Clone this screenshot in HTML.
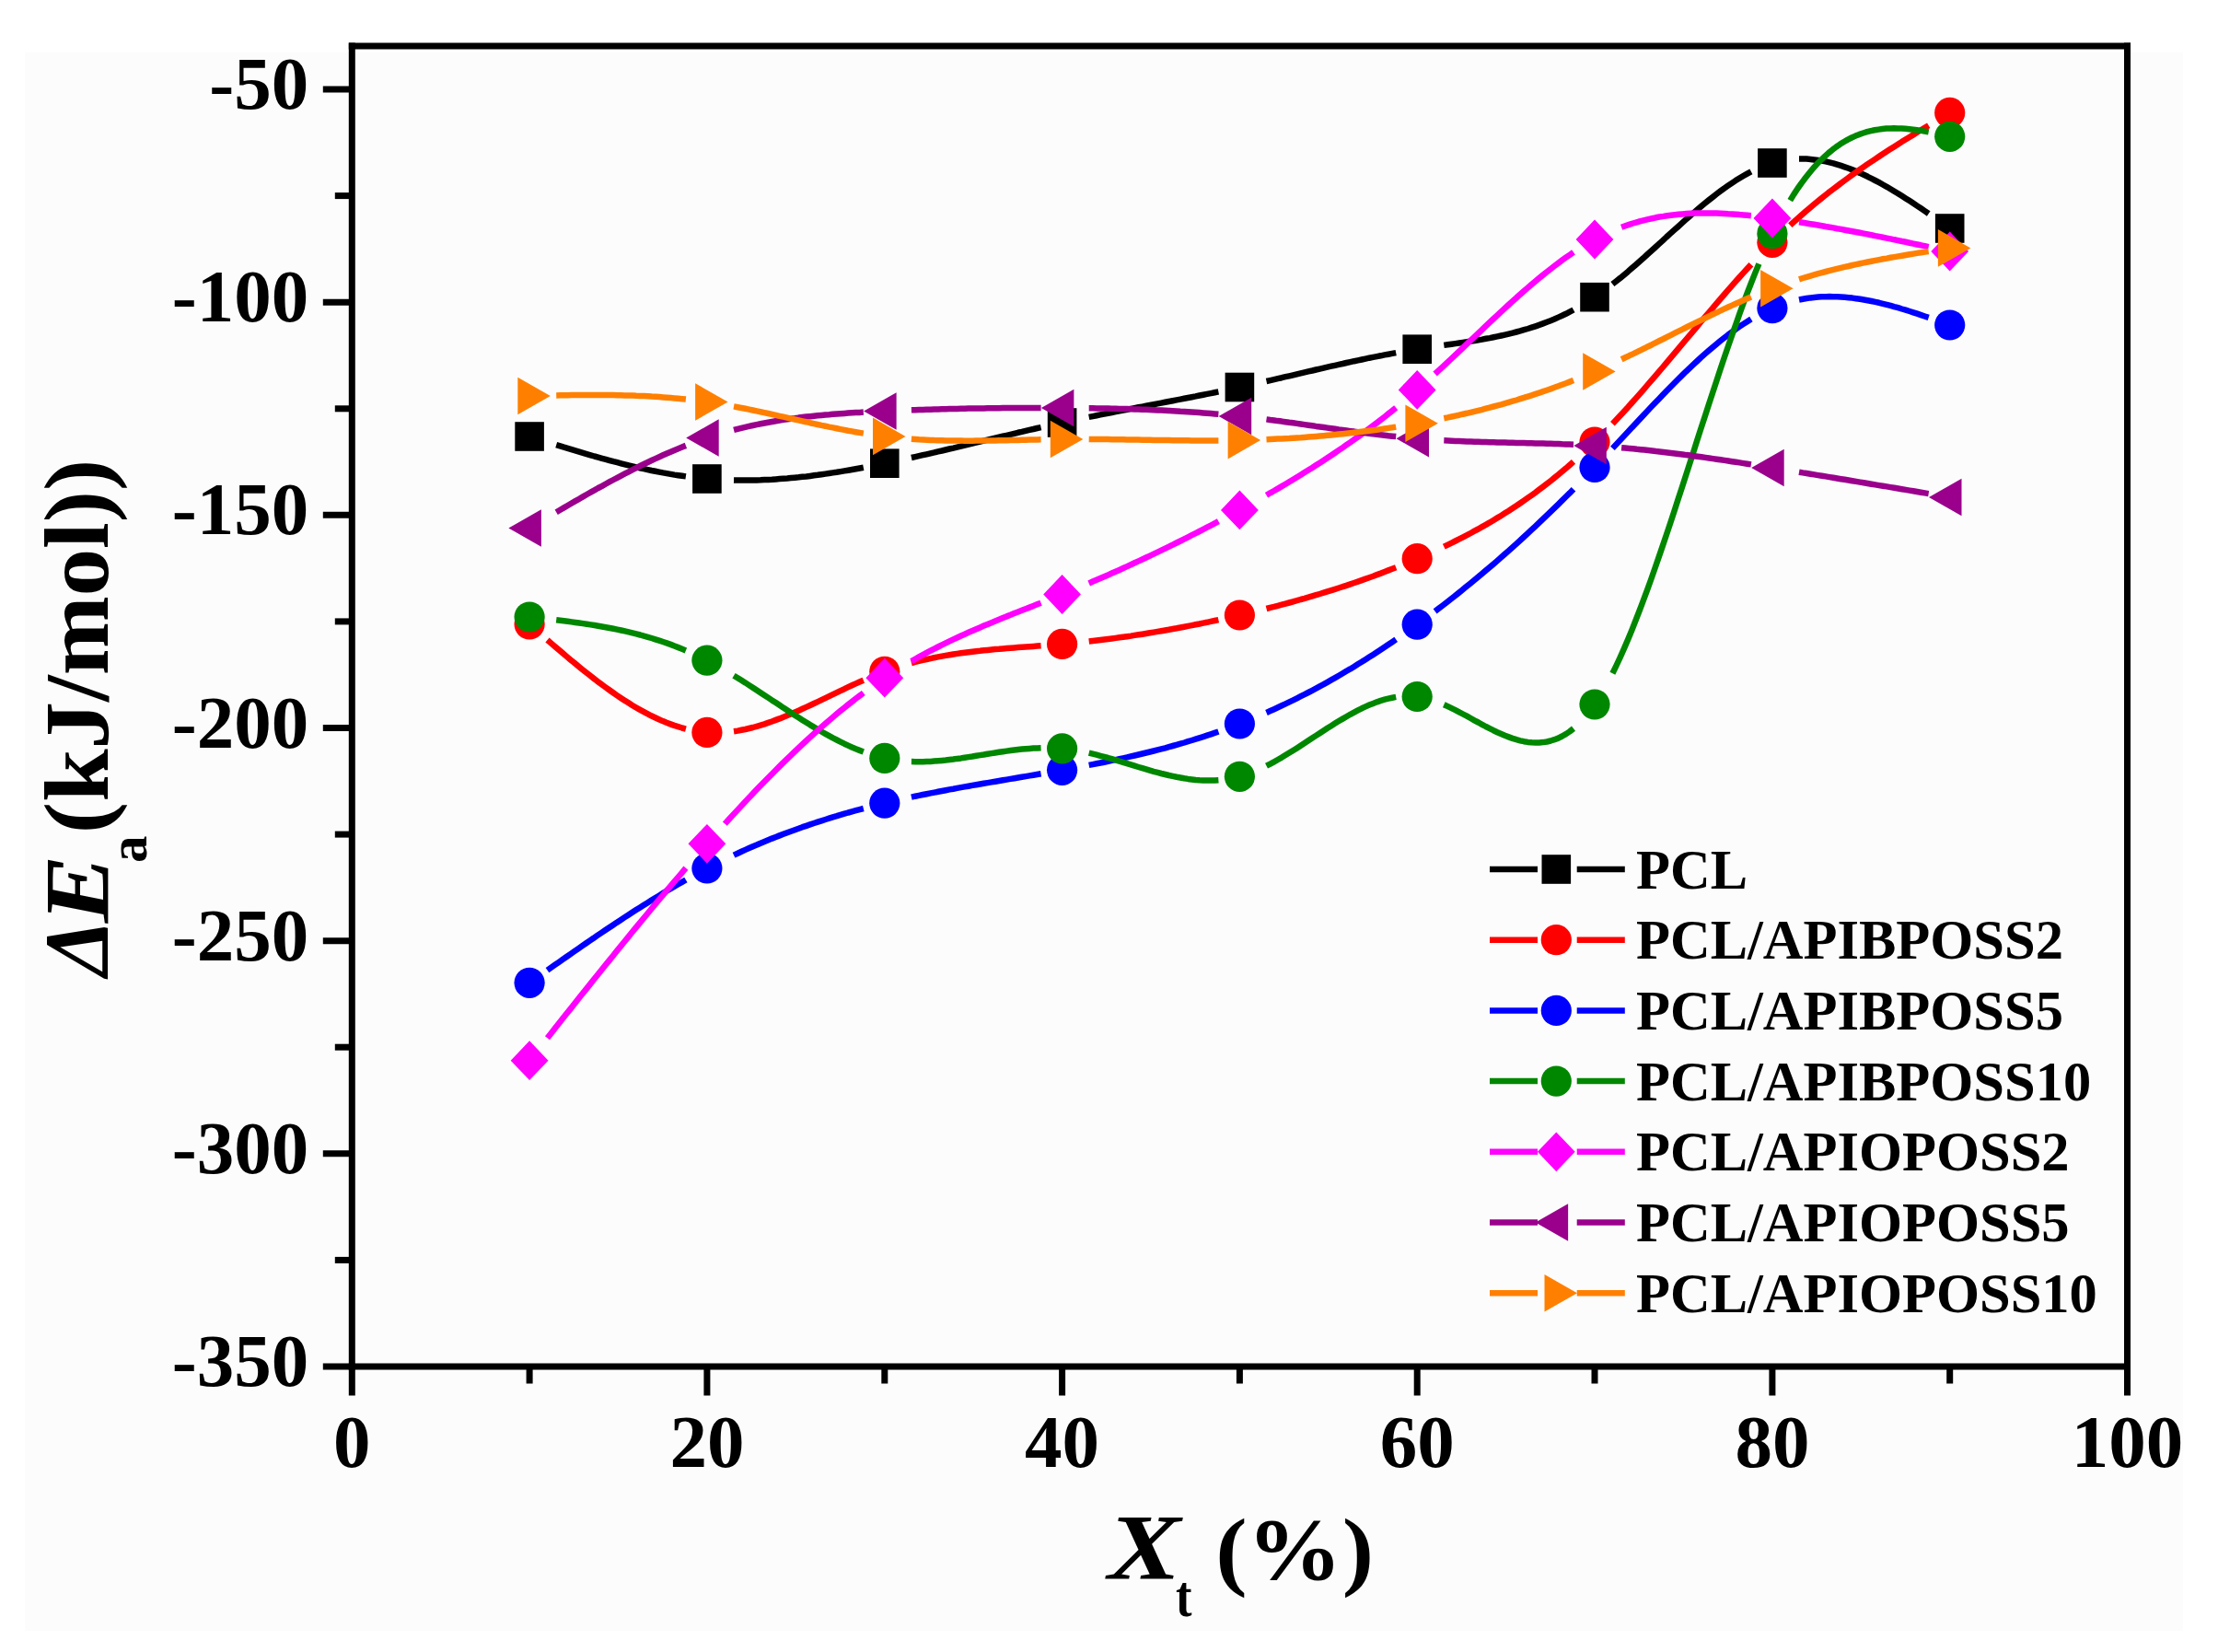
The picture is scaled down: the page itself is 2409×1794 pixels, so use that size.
<!DOCTYPE html>
<html lang="en"><head><meta charset="utf-8"><title>Activation energy vs relative crystallinity</title>
<style>html,body{margin:0;padding:0;background:#fff}svg{display:block}</style></head>
<body>
<svg width="2409" height="1794" viewBox="0 0 2409 1794">
<rect width="2409" height="1794" fill="#ffffff"/>
<rect x="27" y="57" width="2344" height="1714" fill="#fcfcfd"/>
<path d="M604.2,483.1 L608.4,484.4 L612.5,485.7 L616.6,486.9 L620.8,488.2 L624.9,489.4 L629.1,490.7 L633.2,491.9 L637.3,493.1 L641.5,494.3 L645.6,495.5 L649.7,496.6 L653.9,497.8 L658.0,498.9 L662.2,500.1 L666.3,501.2 L670.4,502.2 L674.6,503.3 L678.7,504.3 L682.9,505.4 L687.0,506.3 L691.1,507.3 L695.3,508.3 L699.4,509.2 L703.6,510.1 L707.7,511.0 L711.8,511.8 L716.0,512.6 L720.1,513.4 L724.2,514.1 L728.4,514.9 L732.5,515.6 L736.7,516.2 L740.8,516.8 L744.9,517.4 M797.0,521.5 L801.2,521.6 L805.3,521.6 L809.5,521.6 L813.6,521.6 L817.7,521.5 L821.9,521.4 L826.0,521.3 L830.2,521.1 L834.3,520.9 L838.4,520.7 L842.6,520.4 L846.7,520.1 L850.8,519.8 L855.0,519.5 L859.1,519.1 L863.3,518.7 L867.4,518.3 L871.5,517.8 L875.7,517.4 L879.8,516.9 L884.0,516.3 L888.1,515.8 L892.2,515.2 L896.4,514.6 L900.5,514.0 L904.6,513.4 L908.8,512.8 L912.9,512.1 L917.1,511.4 L921.2,510.7 L925.3,510.0 L929.5,509.2 L933.6,508.5 L937.8,507.7 M989.9,497.0 L994.0,496.1 L998.1,495.2 L1002.3,494.2 L1006.4,493.3 L1010.6,492.3 L1014.7,491.4 L1018.8,490.4 L1023.0,489.5 L1027.1,488.5 L1031.2,487.5 L1035.4,486.6 L1039.5,485.6 L1043.7,484.6 L1047.8,483.6 L1051.9,482.6 L1056.1,481.6 L1060.2,480.7 L1064.4,479.7 L1068.5,478.7 L1072.6,477.7 L1076.8,476.7 L1080.9,475.7 L1085.1,474.7 L1089.2,473.7 L1093.3,472.8 L1097.5,471.8 L1101.6,470.8 L1105.7,469.8 L1109.9,468.9 L1114.0,467.9 L1118.2,466.9 L1122.3,466.0 L1126.4,465.0 L1130.6,464.1 M1182.7,452.9 L1186.8,452.1 L1191.0,451.2 L1195.1,450.4 L1199.2,449.6 L1203.4,448.8 L1207.5,448.0 L1211.7,447.1 L1215.8,446.3 L1219.9,445.5 L1224.1,444.7 L1228.2,443.9 L1232.3,443.1 L1236.5,442.3 L1240.6,441.6 L1244.8,440.8 L1248.9,440.0 L1253.0,439.2 L1257.2,438.4 L1261.3,437.6 L1265.5,436.8 L1269.6,436.0 L1273.7,435.2 L1277.9,434.4 L1282.0,433.6 L1286.2,432.8 L1290.3,432.0 L1294.4,431.2 L1298.6,430.4 L1302.7,429.5 L1306.8,428.7 L1311.0,427.9 L1315.1,427.1 L1319.3,426.2 L1323.4,425.4 M1375.5,414.0 L1379.6,413.1 L1383.8,412.1 L1387.9,411.1 L1392.1,410.2 L1396.2,409.2 L1400.3,408.3 L1404.5,407.3 L1408.6,406.3 L1412.7,405.4 L1416.9,404.4 L1421.0,403.4 L1425.2,402.5 L1429.3,401.5 L1433.4,400.6 L1437.6,399.6 L1441.7,398.7 L1445.9,397.7 L1450.0,396.8 L1454.1,395.9 L1458.3,395.0 L1462.4,394.0 L1466.6,393.1 L1470.7,392.2 L1474.8,391.4 L1479.0,390.5 L1483.1,389.6 L1487.2,388.7 L1491.4,387.9 L1495.5,387.1 L1499.7,386.3 L1503.8,385.4 L1507.9,384.7 L1512.1,383.9 L1516.2,383.1 M1568.3,374.9 L1572.5,374.3 L1576.6,373.7 L1580.7,373.1 L1584.9,372.5 L1589.0,371.9 L1593.2,371.3 L1597.3,370.6 L1601.4,370.0 L1605.6,369.3 L1609.7,368.6 L1613.8,367.8 L1618.0,367.1 L1622.1,366.3 L1626.3,365.4 L1630.4,364.5 L1634.5,363.6 L1638.7,362.6 L1642.8,361.6 L1647.0,360.5 L1651.1,359.4 L1655.2,358.2 L1659.4,357.0 L1663.5,355.7 L1667.7,354.3 L1671.8,352.9 L1675.9,351.4 L1680.1,349.8 L1684.2,348.2 L1688.3,346.5 L1692.5,344.6 L1696.6,342.8 L1700.8,340.8 L1704.9,338.7 L1709.0,336.5 M1751.4,308.5 L1755.6,305.2 L1759.8,301.9 L1764.0,298.4 L1768.2,294.9 L1772.3,291.3 L1776.5,287.7 L1780.7,284.0 L1784.9,280.3 L1789.0,276.5 L1793.2,272.8 L1797.4,269.0 L1801.6,265.2 L1805.8,261.4 L1809.9,257.5 L1814.1,253.7 L1818.3,249.9 L1822.5,246.2 L1826.7,242.4 L1830.8,238.7 L1835.0,235.0 L1839.2,231.4 L1843.4,227.8 L1847.5,224.3 L1851.7,220.8 L1855.9,217.4 L1860.1,214.1 L1864.3,210.8 L1868.4,207.7 L1872.6,204.6 L1876.8,201.7 L1881.0,198.8 L1885.1,196.1 L1889.3,193.5 L1893.5,191.0 L1897.7,188.6 L1901.9,186.4 M1954.0,172.5 L1958.1,172.5 L1962.2,172.6 L1966.4,172.9 L1970.5,173.4 L1974.7,173.9 L1978.8,174.6 L1982.9,175.4 L1987.1,176.4 L1991.2,177.4 L1995.3,178.6 L1999.5,179.9 L2003.6,181.3 L2007.8,182.8 L2011.9,184.4 L2016.0,186.1 L2020.2,187.9 L2024.3,189.8 L2028.5,191.8 L2032.6,193.9 L2036.7,196.0 L2040.9,198.2 L2045.0,200.5 L2049.2,202.8 L2053.3,205.2 L2057.4,207.7 L2061.6,210.2 L2065.7,212.8 L2069.8,215.4 L2074.0,218.1 L2078.1,220.8 L2082.3,223.6 L2086.4,226.3 L2090.5,229.1 L2094.7,232.0" fill="none" stroke="#000000" stroke-width="6.5" stroke-linecap="butt" stroke-linejoin="round"/>
<rect x="559.3" y="458.2" width="31.6" height="31.6" fill="#000000"/>
<rect x="752.1" y="504.2" width="31.6" height="31.6" fill="#000000"/>
<rect x="945.0" y="487.4" width="31.6" height="31.6" fill="#000000"/>
<rect x="1137.8" y="443.2" width="31.6" height="31.6" fill="#000000"/>
<rect x="1330.6" y="404.7" width="31.6" height="31.6" fill="#000000"/>
<rect x="1523.4" y="363.4" width="31.6" height="31.6" fill="#000000"/>
<rect x="1716.2" y="306.9" width="31.6" height="31.6" fill="#000000"/>
<rect x="1909.1" y="161.2" width="31.6" height="31.6" fill="#000000"/>
<rect x="2101.9" y="232.2" width="31.6" height="31.6" fill="#000000"/>
<path d="M594.5,695.0 L598.7,698.6 L602.9,702.2 L607.1,705.8 L611.2,709.3 L615.4,712.9 L619.6,716.4 L623.8,719.8 L627.9,723.3 L632.1,726.7 L636.3,730.0 L640.5,733.3 L644.7,736.6 L648.8,739.8 L653.0,742.9 L657.2,746.0 L661.4,749.0 L665.6,752.0 L669.7,754.9 L673.9,757.7 L678.1,760.4 L682.3,763.1 L686.4,765.7 L690.6,768.2 L694.8,770.6 L699.0,772.9 L703.2,775.1 L707.3,777.3 L711.5,779.3 L715.7,781.2 L719.9,783.1 L724.0,784.8 L728.2,786.4 L732.4,787.9 L736.6,789.2 L740.8,790.5 L744.9,791.6 M797.0,794.2 L801.2,793.6 L805.3,792.8 L809.5,792.0 L813.6,791.0 L817.7,790.0 L821.9,788.8 L826.0,787.6 L830.2,786.3 L834.3,784.9 L838.4,783.5 L842.6,781.9 L846.7,780.4 L850.8,778.7 L855.0,777.0 L859.1,775.3 L863.3,773.5 L867.4,771.7 L871.5,769.8 L875.7,767.9 L879.8,766.0 L884.0,764.0 L888.1,762.1 L892.2,760.1 L896.4,758.1 L900.5,756.1 L904.6,754.1 L908.8,752.1 L912.9,750.1 L917.1,748.2 L921.2,746.2 L925.3,744.3 L929.5,742.4 L933.6,740.5 L937.8,738.7 M989.9,720.0 L994.0,718.9 L998.1,717.9 L1002.3,716.9 L1006.4,716.0 L1010.6,715.1 L1014.7,714.2 L1018.8,713.4 L1023.0,712.6 L1027.1,711.9 L1031.2,711.2 L1035.4,710.5 L1039.5,709.9 L1043.7,709.3 L1047.8,708.7 L1051.9,708.2 L1056.1,707.7 L1060.2,707.2 L1064.4,706.8 L1068.5,706.3 L1072.6,705.9 L1076.8,705.5 L1080.9,705.1 L1085.1,704.8 L1089.2,704.4 L1093.3,704.1 L1097.5,703.7 L1101.6,703.4 L1105.7,703.1 L1109.9,702.8 L1114.0,702.5 L1118.2,702.2 L1122.3,701.9 L1126.4,701.6 L1130.6,701.3 M1182.7,696.5 L1186.8,696.0 L1191.0,695.5 L1195.1,695.0 L1199.2,694.5 L1203.4,694.0 L1207.5,693.5 L1211.7,692.9 L1215.8,692.3 L1219.9,691.8 L1224.1,691.2 L1228.2,690.6 L1232.3,689.9 L1236.5,689.3 L1240.6,688.7 L1244.8,688.0 L1248.9,687.3 L1253.0,686.6 L1257.2,685.9 L1261.3,685.2 L1265.5,684.5 L1269.6,683.8 L1273.7,683.0 L1277.9,682.3 L1282.0,681.5 L1286.2,680.7 L1290.3,679.9 L1294.4,679.1 L1298.6,678.3 L1302.7,677.5 L1306.8,676.6 L1311.0,675.8 L1315.1,674.9 L1319.3,674.0 L1323.4,673.1 M1375.5,661.0 L1379.6,659.9 L1383.8,658.9 L1387.9,657.8 L1392.1,656.7 L1396.2,655.6 L1400.3,654.5 L1404.5,653.3 L1408.6,652.2 L1412.7,651.0 L1416.9,649.9 L1421.0,648.7 L1425.2,647.4 L1429.3,646.2 L1433.4,645.0 L1437.6,643.7 L1441.7,642.4 L1445.9,641.1 L1450.0,639.8 L1454.1,638.5 L1458.3,637.2 L1462.4,635.8 L1466.6,634.4 L1470.7,633.0 L1474.8,631.6 L1479.0,630.1 L1483.1,628.7 L1487.2,627.2 L1491.4,625.7 L1495.5,624.1 L1499.7,622.6 L1503.8,621.0 L1507.9,619.4 L1512.1,617.8 L1516.2,616.2 M1568.3,593.6 L1572.5,591.6 L1576.6,589.6 L1580.7,587.5 L1584.9,585.4 L1589.0,583.3 L1593.2,581.2 L1597.3,579.0 L1601.4,576.7 L1605.6,574.5 L1609.7,572.1 L1613.8,569.8 L1618.0,567.4 L1622.1,564.9 L1626.3,562.4 L1630.4,559.9 L1634.5,557.3 L1638.7,554.7 L1642.8,552.0 L1647.0,549.3 L1651.1,546.5 L1655.2,543.6 L1659.4,540.7 L1663.5,537.8 L1667.7,534.8 L1671.8,531.7 L1675.9,528.6 L1680.1,525.4 L1684.2,522.2 L1688.3,518.9 L1692.5,515.5 L1696.6,512.1 L1700.8,508.6 L1704.9,505.0 L1709.0,501.4 M1751.4,460.2 L1755.6,455.8 L1759.8,451.3 L1764.0,446.8 L1768.2,442.2 L1772.3,437.5 L1776.5,432.8 L1780.7,428.1 L1784.9,423.3 L1789.0,418.5 L1793.2,413.7 L1797.4,408.8 L1801.6,403.9 L1805.8,399.0 L1809.9,394.1 L1814.1,389.1 L1818.3,384.2 L1822.5,379.2 L1826.7,374.2 L1830.8,369.2 L1835.0,364.3 L1839.2,359.3 L1843.4,354.3 L1847.5,349.3 L1851.7,344.4 L1855.9,339.5 L1860.1,334.6 L1864.3,329.7 L1868.4,324.8 L1872.6,320.0 L1876.8,315.2 L1881.0,310.4 L1885.1,305.7 L1889.3,301.0 L1893.5,296.4 L1897.7,291.8 L1901.9,287.2 M1944.3,244.7 L1948.4,240.9 L1952.6,237.2 L1956.8,233.5 L1961.0,229.8 L1965.2,226.3 L1969.3,222.8 L1973.5,219.3 L1977.7,215.9 L1981.9,212.5 L1986.0,209.2 L1990.2,206.0 L1994.4,202.8 L1998.6,199.6 L2002.8,196.5 L2006.9,193.5 L2011.1,190.4 L2015.3,187.4 L2019.5,184.5 L2023.6,181.6 L2027.8,178.7 L2032.0,175.9 L2036.2,173.1 L2040.4,170.3 L2044.5,167.5 L2048.7,164.8 L2052.9,162.1 L2057.1,159.4 L2061.3,156.8 L2065.4,154.1 L2069.6,151.5 L2073.8,148.9 L2078.0,146.4 L2082.1,143.8 L2086.3,141.3 L2090.5,138.7 L2094.7,136.2" fill="none" stroke="#ff0000" stroke-width="6.5" stroke-linecap="butt" stroke-linejoin="round"/>
<circle cx="575.1" cy="678.0" r="16.6" fill="#ff0000"/>
<circle cx="767.9" cy="795.4" r="16.6" fill="#ff0000"/>
<circle cx="960.8" cy="729.3" r="16.6" fill="#ff0000"/>
<circle cx="1153.6" cy="699.4" r="16.6" fill="#ff0000"/>
<circle cx="1346.4" cy="668.0" r="16.6" fill="#ff0000"/>
<circle cx="1539.2" cy="606.7" r="16.6" fill="#ff0000"/>
<circle cx="1732.0" cy="480.0" r="16.6" fill="#ff0000"/>
<circle cx="1924.9" cy="263.3" r="16.6" fill="#ff0000"/>
<circle cx="2117.7" cy="122.4" r="16.6" fill="#ff0000"/>
<path d="M594.5,1053.6 L598.7,1050.7 L602.9,1047.7 L607.1,1044.8 L611.2,1041.9 L615.4,1039.0 L619.6,1036.1 L623.8,1033.2 L627.9,1030.3 L632.1,1027.4 L636.3,1024.5 L640.5,1021.6 L644.7,1018.8 L648.8,1015.9 L653.0,1013.1 L657.2,1010.3 L661.4,1007.5 L665.6,1004.7 L669.7,1001.9 L673.9,999.2 L678.1,996.4 L682.3,993.7 L686.4,991.0 L690.6,988.3 L694.8,985.7 L699.0,983.0 L703.2,980.4 L707.3,977.8 L711.5,975.2 L715.7,972.7 L719.9,970.1 L724.0,967.6 L728.2,965.1 L732.4,962.7 L736.6,960.3 L740.8,957.9 L744.9,955.5 M797.0,928.6 L801.2,926.7 L805.3,924.8 L809.5,922.9 L813.6,921.1 L817.7,919.2 L821.9,917.5 L826.0,915.7 L830.2,914.0 L834.3,912.3 L838.4,910.6 L842.6,909.0 L846.7,907.4 L850.8,905.8 L855.0,904.2 L859.1,902.7 L863.3,901.2 L867.4,899.7 L871.5,898.2 L875.7,896.8 L879.8,895.4 L884.0,894.0 L888.1,892.6 L892.2,891.3 L896.4,890.0 L900.5,888.7 L904.6,887.4 L908.8,886.2 L912.9,884.9 L917.1,883.7 L921.2,882.5 L925.3,881.4 L929.5,880.2 L933.6,879.1 L937.8,878.0 M989.9,865.6 L994.0,864.7 L998.1,863.9 L1002.3,863.0 L1006.4,862.2 L1010.6,861.4 L1014.7,860.6 L1018.8,859.8 L1023.0,859.0 L1027.1,858.2 L1031.2,857.4 L1035.4,856.7 L1039.5,855.9 L1043.7,855.1 L1047.8,854.4 L1051.9,853.7 L1056.1,852.9 L1060.2,852.2 L1064.4,851.5 L1068.5,850.8 L1072.6,850.1 L1076.8,849.4 L1080.9,848.7 L1085.1,848.0 L1089.2,847.3 L1093.3,846.6 L1097.5,845.9 L1101.6,845.2 L1105.7,844.5 L1109.9,843.8 L1114.0,843.1 L1118.2,842.4 L1122.3,841.7 L1126.4,841.0 L1130.6,840.3 M1182.7,830.9 L1186.8,830.1 L1191.0,829.3 L1195.1,828.5 L1199.2,827.7 L1203.4,826.8 L1207.5,825.9 L1211.7,825.1 L1215.8,824.2 L1219.9,823.3 L1224.1,822.4 L1228.2,821.4 L1232.3,820.5 L1236.5,819.5 L1240.6,818.5 L1244.8,817.5 L1248.9,816.5 L1253.0,815.5 L1257.2,814.4 L1261.3,813.4 L1265.5,812.3 L1269.6,811.1 L1273.7,810.0 L1277.9,808.8 L1282.0,807.7 L1286.2,806.5 L1290.3,805.2 L1294.4,804.0 L1298.6,802.7 L1302.7,801.4 L1306.8,800.1 L1311.0,798.7 L1315.1,797.3 L1319.3,795.9 L1323.4,794.5 M1375.5,773.9 L1379.6,772.1 L1383.8,770.2 L1387.9,768.3 L1392.1,766.3 L1396.2,764.4 L1400.3,762.4 L1404.5,760.4 L1408.6,758.3 L1412.7,756.2 L1416.9,754.1 L1421.0,752.0 L1425.2,749.8 L1429.3,747.6 L1433.4,745.3 L1437.6,743.1 L1441.7,740.8 L1445.9,738.4 L1450.0,736.1 L1454.1,733.7 L1458.3,731.3 L1462.4,728.8 L1466.6,726.4 L1470.7,723.9 L1474.8,721.3 L1479.0,718.8 L1483.1,716.2 L1487.2,713.6 L1491.4,710.9 L1495.5,708.2 L1499.7,705.5 L1503.8,702.8 L1507.9,700.0 L1512.1,697.2 L1516.2,694.4 M1558.6,663.8 L1562.8,660.7 L1567.0,657.5 L1571.2,654.2 L1575.3,651.0 L1579.5,647.7 L1583.7,644.4 L1587.9,641.0 L1592.0,637.6 L1596.2,634.2 L1600.4,630.8 L1604.6,627.3 L1608.8,623.8 L1612.9,620.3 L1617.1,616.8 L1621.3,613.2 L1625.5,609.6 L1629.7,605.9 L1633.8,602.3 L1638.0,598.6 L1642.2,594.8 L1646.4,591.1 L1650.5,587.3 L1654.7,583.5 L1658.9,579.6 L1663.1,575.7 L1667.3,571.8 L1671.4,567.9 L1675.6,563.9 L1679.8,559.9 L1684.0,555.9 L1688.1,551.9 L1692.3,547.8 L1696.5,543.7 L1700.7,539.5 L1704.9,535.4 L1709.0,531.2 M1751.4,486.9 L1755.6,482.4 L1759.8,477.9 L1764.0,473.4 L1768.2,468.9 L1772.3,464.4 L1776.5,460.0 L1780.7,455.5 L1784.9,451.0 L1789.0,446.6 L1793.2,442.1 L1797.4,437.7 L1801.6,433.4 L1805.8,429.0 L1809.9,424.7 L1814.1,420.4 L1818.3,416.2 L1822.5,412.0 L1826.7,407.9 L1830.8,403.8 L1835.0,399.8 L1839.2,395.9 L1843.4,392.0 L1847.5,388.2 L1851.7,384.4 L1855.9,380.8 L1860.1,377.2 L1864.3,373.7 L1868.4,370.3 L1872.6,367.0 L1876.8,363.7 L1881.0,360.6 L1885.1,357.6 L1889.3,354.7 L1893.5,351.9 L1897.7,349.2 L1901.9,346.6 M1954.0,325.5 L1958.1,324.7 L1962.2,324.0 L1966.4,323.4 L1970.5,323.0 L1974.7,322.6 L1978.8,322.3 L1982.9,322.2 L1987.1,322.1 L1991.2,322.2 L1995.3,322.3 L1999.5,322.5 L2003.6,322.8 L2007.8,323.2 L2011.9,323.6 L2016.0,324.2 L2020.2,324.8 L2024.3,325.5 L2028.5,326.2 L2032.6,327.0 L2036.7,327.9 L2040.9,328.8 L2045.0,329.8 L2049.2,330.8 L2053.3,331.9 L2057.4,333.1 L2061.6,334.2 L2065.7,335.5 L2069.8,336.7 L2074.0,338.0 L2078.1,339.3 L2082.3,340.7 L2086.4,342.1 L2090.5,343.5 L2094.7,344.9" fill="none" stroke="#0000ff" stroke-width="6.5" stroke-linecap="butt" stroke-linejoin="round"/>
<circle cx="575.1" cy="1067.3" r="16.6" fill="#0000ff"/>
<circle cx="767.9" cy="943.0" r="16.6" fill="#0000ff"/>
<circle cx="960.8" cy="872.2" r="16.6" fill="#0000ff"/>
<circle cx="1153.6" cy="836.3" r="16.6" fill="#0000ff"/>
<circle cx="1346.4" cy="786.0" r="16.6" fill="#0000ff"/>
<circle cx="1539.2" cy="678.2" r="16.6" fill="#0000ff"/>
<circle cx="1732.0" cy="507.5" r="16.6" fill="#0000ff"/>
<circle cx="1924.9" cy="334.7" r="16.6" fill="#0000ff"/>
<circle cx="2117.7" cy="353.0" r="16.6" fill="#0000ff"/>
<path d="M604.2,673.3 L608.4,673.8 L612.5,674.3 L616.6,674.8 L620.8,675.4 L624.9,675.9 L629.1,676.5 L633.2,677.1 L637.3,677.7 L641.5,678.4 L645.6,679.0 L649.7,679.7 L653.9,680.5 L658.0,681.2 L662.2,682.0 L666.3,682.8 L670.4,683.6 L674.6,684.5 L678.7,685.4 L682.9,686.4 L687.0,687.4 L691.1,688.4 L695.3,689.5 L699.4,690.7 L703.6,691.8 L707.7,693.0 L711.8,694.3 L716.0,695.6 L720.1,697.0 L724.2,698.4 L728.4,699.9 L732.5,701.5 L736.7,703.1 L740.8,704.7 L744.9,706.4 M797.0,733.7 L801.2,736.2 L805.3,738.8 L809.5,741.4 L813.6,744.1 L817.7,746.8 L821.9,749.5 L826.0,752.2 L830.2,754.9 L834.3,757.6 L838.4,760.4 L842.6,763.1 L846.7,765.8 L850.8,768.6 L855.0,771.3 L859.1,774.0 L863.3,776.7 L867.4,779.3 L871.5,781.9 L875.7,784.5 L879.8,787.1 L884.0,789.6 L888.1,792.1 L892.2,794.5 L896.4,796.8 L900.5,799.1 L904.6,801.4 L908.8,803.5 L912.9,805.6 L917.1,807.7 L921.2,809.6 L925.3,811.5 L929.5,813.3 L933.6,814.9 L937.8,816.5 M989.9,827.1 L994.0,827.2 L998.1,827.2 L1002.3,827.2 L1006.4,827.0 L1010.6,826.9 L1014.7,826.6 L1018.8,826.3 L1023.0,825.9 L1027.1,825.5 L1031.2,825.0 L1035.4,824.5 L1039.5,823.9 L1043.7,823.4 L1047.8,822.7 L1051.9,822.1 L1056.1,821.5 L1060.2,820.8 L1064.4,820.1 L1068.5,819.5 L1072.6,818.8 L1076.8,818.1 L1080.9,817.5 L1085.1,816.8 L1089.2,816.2 L1093.3,815.6 L1097.5,815.0 L1101.6,814.5 L1105.7,814.0 L1109.9,813.6 L1114.0,813.2 L1118.2,812.9 L1122.3,812.6 L1126.4,812.4 L1130.6,812.2 M1182.7,817.7 L1186.8,818.7 L1191.0,819.7 L1195.1,820.8 L1199.2,821.9 L1203.4,823.0 L1207.5,824.2 L1211.7,825.4 L1215.8,826.7 L1219.9,827.9 L1224.1,829.2 L1228.2,830.4 L1232.3,831.7 L1236.5,833.0 L1240.6,834.2 L1244.8,835.4 L1248.9,836.6 L1253.0,837.8 L1257.2,838.9 L1261.3,840.0 L1265.5,841.0 L1269.6,842.0 L1273.7,842.9 L1277.9,843.8 L1282.0,844.5 L1286.2,845.3 L1290.3,845.9 L1294.4,846.4 L1298.6,846.9 L1302.7,847.2 L1306.8,847.4 L1311.0,847.6 L1315.1,847.6 L1319.3,847.5 L1323.4,847.2 M1375.5,831.7 L1379.6,829.6 L1383.8,827.3 L1387.9,825.0 L1392.1,822.6 L1396.2,820.1 L1400.3,817.6 L1404.5,815.0 L1408.6,812.4 L1412.7,809.7 L1416.9,807.0 L1421.0,804.3 L1425.2,801.6 L1429.3,798.9 L1433.4,796.2 L1437.6,793.5 L1441.7,790.8 L1445.9,788.2 L1450.0,785.6 L1454.1,783.1 L1458.3,780.6 L1462.4,778.2 L1466.6,775.8 L1470.7,773.6 L1474.8,771.4 L1479.0,769.3 L1483.1,767.4 L1487.2,765.6 L1491.4,763.9 L1495.5,762.3 L1499.7,760.9 L1503.8,759.7 L1507.9,758.6 L1512.1,757.7 L1516.2,756.9 M1568.3,765.2 L1572.5,767.1 L1576.6,769.1 L1580.7,771.1 L1584.9,773.3 L1589.0,775.5 L1593.2,777.7 L1597.3,780.0 L1601.4,782.3 L1605.6,784.5 L1609.7,786.8 L1613.8,789.0 L1618.0,791.1 L1622.1,793.2 L1626.3,795.2 L1630.4,797.0 L1634.5,798.8 L1638.7,800.4 L1642.8,801.9 L1647.0,803.2 L1651.1,804.3 L1655.2,805.2 L1659.4,805.9 L1663.5,806.3 L1667.7,806.5 L1671.8,806.5 L1675.9,806.1 L1680.1,805.5 L1684.2,804.5 L1688.3,803.2 L1692.5,801.6 L1696.6,799.5 L1700.8,797.1 L1704.9,794.4 L1709.0,791.1 M1751.4,731.2 L1755.6,722.6 L1759.8,713.6 L1764.0,704.2 L1768.2,694.4 L1772.4,684.2 L1776.5,673.8 L1780.7,663.0 L1784.9,651.9 L1789.1,640.6 L1793.3,629.0 L1797.4,617.2 L1801.6,605.1 L1805.8,592.9 L1810.0,580.5 L1814.2,568.0 L1818.4,555.3 L1822.5,542.5 L1826.7,529.7 L1830.9,516.8 L1835.1,503.8 L1839.3,490.8 L1843.4,477.8 L1847.6,464.8 L1851.8,451.9 L1856.0,439.0 L1860.2,426.2 L1864.4,413.5 L1868.5,400.9 L1872.7,388.5 L1876.9,376.2 L1881.1,364.1 L1885.3,352.3 L1889.4,340.6 L1893.6,329.2 L1897.8,318.0 L1902.0,307.2 L1906.2,296.6 L1910.4,286.4 M1944.3,217.6 L1948.4,210.9 L1952.6,204.5 L1956.8,198.6 L1961.0,193.0 L1965.2,187.7 L1969.3,182.7 L1973.5,178.1 L1977.7,173.8 L1981.9,169.8 L1986.0,166.1 L1990.2,162.7 L1994.4,159.5 L1998.6,156.6 L2002.8,154.0 L2006.9,151.6 L2011.1,149.5 L2015.3,147.6 L2019.5,145.9 L2023.6,144.5 L2027.8,143.2 L2032.0,142.1 L2036.2,141.3 L2040.4,140.6 L2044.5,140.0 L2048.7,139.6 L2052.9,139.4 L2057.1,139.3 L2061.3,139.4 L2065.4,139.5 L2069.6,139.8 L2073.8,140.2 L2078.0,140.7 L2082.1,141.3 L2086.3,141.9 L2090.5,142.6 L2094.7,143.4" fill="none" stroke="#008700" stroke-width="6.5" stroke-linecap="butt" stroke-linejoin="round"/>
<circle cx="575.1" cy="670.0" r="16.6" fill="#008700"/>
<circle cx="767.9" cy="717.2" r="16.6" fill="#008700"/>
<circle cx="960.8" cy="823.4" r="16.6" fill="#008700"/>
<circle cx="1153.6" cy="812.9" r="16.6" fill="#008700"/>
<circle cx="1346.4" cy="843.3" r="16.6" fill="#008700"/>
<circle cx="1539.2" cy="756.5" r="16.6" fill="#008700"/>
<circle cx="1732.0" cy="765.0" r="16.6" fill="#008700"/>
<circle cx="1924.9" cy="253.7" r="16.6" fill="#008700"/>
<circle cx="2117.7" cy="148.3" r="16.6" fill="#008700"/>
<path d="M594.5,1127.2 L598.7,1121.9 L602.9,1116.6 L607.1,1111.3 L611.2,1106.1 L615.4,1100.8 L619.6,1095.6 L623.8,1090.3 L627.9,1085.1 L632.1,1079.8 L636.3,1074.6 L640.5,1069.4 L644.7,1064.1 L648.8,1058.9 L653.0,1053.7 L657.2,1048.5 L661.4,1043.4 L665.6,1038.2 L669.7,1033.0 L673.9,1027.9 L678.1,1022.8 L682.3,1017.6 L686.4,1012.5 L690.6,1007.4 L694.8,1002.4 L699.0,997.3 L703.2,992.2 L707.3,987.2 L711.5,982.2 L715.7,977.2 L719.9,972.2 L724.0,967.2 L728.2,962.3 L732.4,957.4 L736.6,952.5 L740.8,947.6 L744.9,942.7 M787.3,894.6 L791.5,890.0 L795.7,885.4 L799.9,880.9 L804.1,876.4 L808.2,871.9 L812.4,867.4 L816.6,863.0 L820.8,858.6 L824.9,854.3 L829.1,850.0 L833.3,845.7 L837.5,841.4 L841.7,837.2 L845.8,833.1 L850.0,828.9 L854.2,824.8 L858.4,820.8 L862.5,816.8 L866.7,812.8 L870.9,808.9 L875.1,805.0 L879.3,801.2 L883.4,797.4 L887.6,793.6 L891.8,789.9 L896.0,786.3 L900.2,782.6 L904.3,779.1 L908.5,775.6 L912.7,772.1 L916.9,768.7 L921.0,765.4 L925.2,762.1 L929.4,758.8 L933.6,755.6 L937.8,752.5 M989.9,718.1 L994.0,715.7 L998.1,713.4 L1002.3,711.1 L1006.4,708.9 L1010.6,706.7 L1014.7,704.6 L1018.8,702.5 L1023.0,700.4 L1027.1,698.4 L1031.2,696.4 L1035.4,694.4 L1039.5,692.5 L1043.7,690.5 L1047.8,688.7 L1051.9,686.8 L1056.1,685.0 L1060.2,683.2 L1064.4,681.4 L1068.5,679.6 L1072.6,677.9 L1076.8,676.2 L1080.9,674.5 L1085.1,672.8 L1089.2,671.1 L1093.3,669.4 L1097.5,667.8 L1101.6,666.1 L1105.7,664.5 L1109.9,662.8 L1114.0,661.2 L1118.2,659.6 L1122.3,658.0 L1126.4,656.3 L1130.6,654.7 M1182.7,633.4 L1186.8,631.6 L1191.0,629.8 L1195.1,628.0 L1199.2,626.2 L1203.4,624.4 L1207.5,622.6 L1211.7,620.7 L1215.8,618.9 L1219.9,617.0 L1224.1,615.1 L1228.2,613.2 L1232.3,611.3 L1236.5,609.4 L1240.6,607.5 L1244.8,605.5 L1248.9,603.6 L1253.0,601.6 L1257.2,599.6 L1261.3,597.6 L1265.5,595.6 L1269.6,593.6 L1273.7,591.6 L1277.9,589.5 L1282.0,587.5 L1286.2,585.4 L1290.3,583.3 L1294.4,581.2 L1298.6,579.1 L1302.7,577.0 L1306.8,574.9 L1311.0,572.7 L1315.1,570.6 L1319.3,568.4 L1323.4,566.2 M1375.5,537.7 L1379.6,535.3 L1383.8,533.0 L1387.9,530.6 L1392.1,528.1 L1396.2,525.7 L1400.3,523.2 L1404.5,520.7 L1408.6,518.2 L1412.7,515.7 L1416.9,513.1 L1421.0,510.6 L1425.2,508.0 L1429.3,505.3 L1433.4,502.7 L1437.6,500.0 L1441.7,497.3 L1445.9,494.5 L1450.0,491.7 L1454.1,488.9 L1458.3,486.1 L1462.4,483.2 L1466.6,480.3 L1470.7,477.4 L1474.8,474.5 L1479.0,471.5 L1483.1,468.4 L1487.2,465.3 L1491.4,462.2 L1495.5,459.1 L1499.7,455.9 L1503.8,452.7 L1507.9,449.4 L1512.1,446.1 L1516.2,442.8 M1558.6,406.0 L1562.8,402.2 L1567.0,398.3 L1571.2,394.4 L1575.3,390.5 L1579.5,386.6 L1583.7,382.6 L1587.9,378.7 L1592.0,374.7 L1596.2,370.7 L1600.4,366.8 L1604.6,362.8 L1608.8,358.8 L1612.9,354.9 L1617.1,350.9 L1621.3,347.0 L1625.5,343.1 L1629.7,339.2 L1633.8,335.4 L1638.0,331.5 L1642.2,327.7 L1646.4,324.0 L1650.5,320.2 L1654.7,316.5 L1658.9,312.9 L1663.1,309.3 L1667.3,305.8 L1671.4,302.3 L1675.6,298.9 L1679.8,295.5 L1684.0,292.2 L1688.1,289.0 L1692.3,285.8 L1696.5,282.7 L1700.7,279.7 L1704.9,276.8 L1709.0,273.9 M1761.1,246.8 L1765.3,245.3 L1769.4,243.9 L1773.6,242.5 L1777.7,241.3 L1781.8,240.1 L1786.0,239.1 L1790.1,238.1 L1794.3,237.2 L1798.4,236.3 L1802.5,235.5 L1806.7,234.9 L1810.8,234.2 L1814.9,233.7 L1819.1,233.2 L1823.2,232.8 L1827.4,232.4 L1831.5,232.1 L1835.6,231.8 L1839.8,231.6 L1843.9,231.5 L1848.1,231.4 L1852.2,231.4 L1856.3,231.4 L1860.5,231.5 L1864.6,231.6 L1868.7,231.7 L1872.9,231.9 L1877.0,232.2 L1881.2,232.4 L1885.3,232.7 L1889.4,233.1 L1893.6,233.4 L1897.7,233.8 L1901.9,234.2 M1954.0,241.2 L1958.1,241.8 L1962.2,242.5 L1966.4,243.2 L1970.5,243.8 L1974.7,244.5 L1978.8,245.2 L1982.9,246.0 L1987.1,246.7 L1991.2,247.4 L1995.3,248.2 L1999.5,248.9 L2003.6,249.7 L2007.8,250.5 L2011.9,251.2 L2016.0,252.0 L2020.2,252.8 L2024.3,253.6 L2028.5,254.4 L2032.6,255.2 L2036.7,256.1 L2040.9,256.9 L2045.0,257.7 L2049.2,258.6 L2053.3,259.4 L2057.4,260.3 L2061.6,261.1 L2065.7,262.0 L2069.8,262.8 L2074.0,263.7 L2078.1,264.6 L2082.3,265.5 L2086.4,266.3 L2090.5,267.2 L2094.7,268.1" fill="none" stroke="#ff00ff" stroke-width="6.5" stroke-linecap="butt" stroke-linejoin="round"/>
<polygon points="554.7,1151.7 575.1,1130.3 595.5,1151.7 575.1,1173.1" fill="#ff00ff"/>
<polygon points="747.5,916.3 767.9,894.9 788.3,916.3 767.9,937.7" fill="#ff00ff"/>
<polygon points="940.4,736.2 960.8,714.8 981.2,736.2 960.8,757.6" fill="#ff00ff"/>
<polygon points="1133.2,645.5 1153.6,624.1 1174.0,645.5 1153.6,666.9" fill="#ff00ff"/>
<polygon points="1326.0,553.9 1346.4,532.5 1366.8,553.9 1346.4,575.3" fill="#ff00ff"/>
<polygon points="1518.8,423.4 1539.2,402.0 1559.6,423.4 1539.2,444.8" fill="#ff00ff"/>
<polygon points="1711.6,260.0 1732.0,238.6 1752.4,260.0 1732.0,281.4" fill="#ff00ff"/>
<polygon points="1904.5,237.0 1924.9,215.6 1945.3,237.0 1924.9,258.4" fill="#ff00ff"/>
<polygon points="2097.3,273.0 2117.7,251.6 2138.1,273.0 2117.7,294.4" fill="#ff00ff"/>
<path d="M604.2,556.2 L608.4,553.8 L612.5,551.4 L616.6,549.0 L620.8,546.5 L624.9,544.1 L629.1,541.8 L633.2,539.4 L637.3,537.0 L641.5,534.7 L645.6,532.4 L649.7,530.0 L653.9,527.8 L658.0,525.5 L662.2,523.2 L666.3,521.0 L670.4,518.8 L674.6,516.6 L678.7,514.4 L682.9,512.3 L687.0,510.2 L691.1,508.1 L695.3,506.0 L699.4,504.0 L703.6,502.0 L707.7,500.0 L711.8,498.1 L716.0,496.2 L720.1,494.3 L724.2,492.5 L728.4,490.7 L732.5,488.9 L736.7,487.2 L740.8,485.5 L744.9,483.9 M797.0,466.9 L801.2,465.8 L805.3,464.8 L809.5,463.8 L813.6,462.9 L817.7,462.0 L821.9,461.1 L826.0,460.3 L830.2,459.5 L834.3,458.7 L838.4,458.0 L842.6,457.2 L846.7,456.6 L850.8,455.9 L855.0,455.3 L859.1,454.7 L863.3,454.2 L867.4,453.6 L871.5,453.1 L875.7,452.6 L879.8,452.2 L884.0,451.7 L888.1,451.3 L892.2,450.9 L896.4,450.5 L900.5,450.2 L904.6,449.8 L908.8,449.5 L912.9,449.2 L917.1,448.9 L921.2,448.6 L925.3,448.3 L929.5,448.1 L933.6,447.9 L937.8,447.6 M989.9,445.3 L994.0,445.2 L998.1,445.0 L1002.3,444.9 L1006.4,444.8 L1010.6,444.7 L1014.7,444.5 L1018.8,444.4 L1023.0,444.3 L1027.1,444.2 L1031.2,444.1 L1035.4,444.0 L1039.5,443.9 L1043.7,443.8 L1047.8,443.7 L1051.9,443.6 L1056.1,443.6 L1060.2,443.5 L1064.4,443.4 L1068.5,443.4 L1072.6,443.3 L1076.8,443.3 L1080.9,443.2 L1085.1,443.2 L1089.2,443.1 L1093.3,443.1 L1097.5,443.0 L1101.6,443.0 L1105.7,443.0 L1109.9,443.0 L1114.0,443.0 L1118.2,442.9 L1122.3,442.9 L1126.4,442.9 L1130.6,442.9 M1182.7,443.3 L1186.8,443.3 L1191.0,443.4 L1195.1,443.5 L1199.2,443.5 L1203.4,443.6 L1207.5,443.7 L1211.7,443.8 L1215.8,443.9 L1219.9,444.0 L1224.1,444.1 L1228.2,444.2 L1232.3,444.4 L1236.5,444.5 L1240.6,444.7 L1244.8,444.8 L1248.9,445.0 L1253.0,445.2 L1257.2,445.4 L1261.3,445.5 L1265.5,445.7 L1269.6,446.0 L1273.7,446.2 L1277.9,446.4 L1282.0,446.7 L1286.2,446.9 L1290.3,447.2 L1294.4,447.5 L1298.6,447.8 L1302.7,448.1 L1306.8,448.4 L1311.0,448.7 L1315.1,449.0 L1319.3,449.4 L1323.4,449.7 M1375.5,455.4 L1379.6,456.0 L1383.8,456.5 L1387.9,457.1 L1392.1,457.6 L1396.2,458.2 L1400.3,458.8 L1404.5,459.3 L1408.6,459.9 L1412.7,460.5 L1416.9,461.1 L1421.0,461.7 L1425.2,462.3 L1429.3,462.9 L1433.4,463.4 L1437.6,464.0 L1441.7,464.6 L1445.9,465.2 L1450.0,465.8 L1454.1,466.4 L1458.3,466.9 L1462.4,467.5 L1466.6,468.1 L1470.7,468.6 L1474.8,469.2 L1479.0,469.7 L1483.1,470.3 L1487.2,470.8 L1491.4,471.3 L1495.5,471.8 L1499.7,472.3 L1503.8,472.8 L1507.9,473.3 L1512.1,473.7 L1516.2,474.1 M1568.3,478.3 L1572.5,478.5 L1576.6,478.7 L1580.7,478.9 L1584.9,479.0 L1589.0,479.2 L1593.2,479.4 L1597.3,479.5 L1601.4,479.7 L1605.6,479.8 L1609.7,479.9 L1613.8,480.0 L1618.0,480.2 L1622.1,480.3 L1626.3,480.4 L1630.4,480.5 L1634.5,480.6 L1638.7,480.7 L1642.8,480.8 L1647.0,480.9 L1651.1,481.0 L1655.2,481.1 L1659.4,481.2 L1663.5,481.3 L1667.7,481.4 L1671.8,481.5 L1675.9,481.6 L1680.1,481.7 L1684.2,481.8 L1688.3,482.0 L1692.5,482.1 L1696.6,482.3 L1700.8,482.4 L1704.9,482.6 L1709.0,482.8 M1761.1,486.2 L1765.3,486.6 L1769.4,486.9 L1773.6,487.3 L1777.7,487.8 L1781.8,488.2 L1786.0,488.6 L1790.1,489.0 L1794.3,489.5 L1798.4,490.0 L1802.5,490.4 L1806.7,490.9 L1810.8,491.4 L1814.9,491.9 L1819.1,492.5 L1823.2,493.0 L1827.4,493.5 L1831.5,494.1 L1835.6,494.6 L1839.8,495.2 L1843.9,495.7 L1848.1,496.3 L1852.2,496.9 L1856.3,497.5 L1860.5,498.1 L1864.6,498.7 L1868.7,499.3 L1872.9,499.9 L1877.0,500.5 L1881.2,501.2 L1885.3,501.8 L1889.4,502.4 L1893.6,503.1 L1897.7,503.7 L1901.9,504.4 M1954.0,512.7 L1958.1,513.4 L1962.2,514.0 L1966.4,514.7 L1970.5,515.4 L1974.7,516.1 L1978.8,516.7 L1982.9,517.4 L1987.1,518.1 L1991.2,518.8 L1995.3,519.5 L1999.5,520.2 L2003.6,520.8 L2007.8,521.5 L2011.9,522.2 L2016.0,522.9 L2020.2,523.6 L2024.3,524.3 L2028.5,525.0 L2032.6,525.7 L2036.7,526.4 L2040.9,527.1 L2045.0,527.7 L2049.2,528.4 L2053.3,529.1 L2057.4,529.8 L2061.6,530.5 L2065.7,531.2 L2069.8,531.9 L2074.0,532.6 L2078.1,533.3 L2082.3,534.0 L2086.4,534.7 L2090.5,535.4 L2094.7,536.1" fill="none" stroke="#9a008c" stroke-width="6.5" stroke-linecap="butt" stroke-linejoin="round"/>
<polygon points="552.4,573.5 587.9,553.2 587.9,593.8" fill="#9a008c"/>
<polygon points="745.2,475.5 780.7,455.2 780.7,495.8" fill="#9a008c"/>
<polygon points="938.1,446.5 973.6,426.2 973.6,466.8" fill="#9a008c"/>
<polygon points="1130.9,443.0 1166.4,422.7 1166.4,463.3" fill="#9a008c"/>
<polygon points="1323.7,452.0 1359.2,431.7 1359.2,472.3" fill="#9a008c"/>
<polygon points="1516.5,476.3 1552.0,456.0 1552.0,496.6" fill="#9a008c"/>
<polygon points="1709.3,484.0 1744.8,463.7 1744.8,504.3" fill="#9a008c"/>
<polygon points="1902.2,508.0 1937.7,487.7 1937.7,528.3" fill="#9a008c"/>
<polygon points="2095.0,540.0 2130.5,519.7 2130.5,560.3" fill="#9a008c"/>
<path d="M604.2,429.4 L608.4,429.3 L612.5,429.3 L616.6,429.2 L620.8,429.1 L624.9,429.1 L629.1,429.0 L633.2,429.0 L637.3,429.0 L641.5,429.0 L645.6,429.0 L649.7,429.0 L653.9,429.0 L658.0,429.0 L662.2,429.1 L666.3,429.1 L670.4,429.2 L674.6,429.3 L678.7,429.4 L682.9,429.5 L687.0,429.6 L691.1,429.8 L695.3,429.9 L699.4,430.1 L703.6,430.3 L707.7,430.6 L711.8,430.8 L716.0,431.1 L720.1,431.4 L724.2,431.7 L728.4,432.0 L732.5,432.4 L736.7,432.8 L740.8,433.2 L744.9,433.6 M797.0,441.4 L801.2,442.2 L805.3,443.0 L809.5,443.8 L813.6,444.6 L817.7,445.5 L821.9,446.4 L826.0,447.2 L830.2,448.1 L834.3,449.0 L838.4,449.9 L842.6,450.9 L846.7,451.8 L850.8,452.7 L855.0,453.6 L859.1,454.6 L863.3,455.5 L867.4,456.4 L871.5,457.3 L875.7,458.2 L879.8,459.2 L884.0,460.1 L888.1,461.0 L892.2,461.9 L896.4,462.7 L900.5,463.6 L904.6,464.4 L908.8,465.3 L912.9,466.1 L917.1,466.9 L921.2,467.7 L925.3,468.4 L929.5,469.2 L933.6,469.9 L937.8,470.6 M989.9,476.7 L994.0,477.0 L998.1,477.3 L1002.3,477.5 L1006.4,477.7 L1010.6,477.9 L1014.7,478.1 L1018.8,478.2 L1023.0,478.3 L1027.1,478.4 L1031.2,478.5 L1035.4,478.6 L1039.5,478.6 L1043.7,478.6 L1047.8,478.7 L1051.9,478.7 L1056.1,478.7 L1060.2,478.6 L1064.4,478.6 L1068.5,478.6 L1072.6,478.5 L1076.8,478.5 L1080.9,478.4 L1085.1,478.3 L1089.2,478.2 L1093.3,478.2 L1097.5,478.1 L1101.6,478.0 L1105.7,477.9 L1109.9,477.8 L1114.0,477.7 L1118.2,477.6 L1122.3,477.5 L1126.4,477.4 L1130.6,477.3 M1182.7,476.9 L1186.8,477.0 L1191.0,477.0 L1195.1,477.0 L1199.2,477.1 L1203.4,477.1 L1207.5,477.2 L1211.7,477.2 L1215.8,477.3 L1219.9,477.3 L1224.1,477.4 L1228.2,477.5 L1232.3,477.5 L1236.5,477.6 L1240.6,477.7 L1244.8,477.7 L1248.9,477.8 L1253.0,477.9 L1257.2,477.9 L1261.3,478.0 L1265.5,478.0 L1269.6,478.1 L1273.7,478.2 L1277.9,478.2 L1282.0,478.3 L1286.2,478.3 L1290.3,478.3 L1294.4,478.4 L1298.6,478.4 L1302.7,478.4 L1306.8,478.4 L1311.0,478.4 L1315.1,478.4 L1319.3,478.4 L1323.4,478.4 M1375.5,477.2 L1379.6,477.0 L1383.8,476.8 L1387.9,476.6 L1392.1,476.4 L1396.2,476.2 L1400.3,476.0 L1404.5,475.7 L1408.6,475.4 L1412.7,475.2 L1416.9,474.9 L1421.0,474.6 L1425.2,474.2 L1429.3,473.9 L1433.4,473.6 L1437.6,473.2 L1441.7,472.8 L1445.9,472.4 L1450.0,472.0 L1454.1,471.6 L1458.3,471.2 L1462.4,470.8 L1466.6,470.3 L1470.7,469.8 L1474.8,469.3 L1479.0,468.8 L1483.1,468.3 L1487.2,467.8 L1491.4,467.2 L1495.5,466.7 L1499.7,466.1 L1503.8,465.5 L1507.9,464.9 L1512.1,464.3 L1516.2,463.6 M1568.3,454.2 L1572.5,453.4 L1576.6,452.5 L1580.7,451.6 L1584.9,450.7 L1589.0,449.7 L1593.2,448.8 L1597.3,447.8 L1601.4,446.8 L1605.6,445.8 L1609.7,444.8 L1613.8,443.7 L1618.0,442.6 L1622.1,441.5 L1626.3,440.4 L1630.4,439.3 L1634.5,438.1 L1638.7,436.9 L1642.8,435.7 L1647.0,434.5 L1651.1,433.2 L1655.2,431.9 L1659.4,430.6 L1663.5,429.3 L1667.7,427.9 L1671.8,426.6 L1675.9,425.2 L1680.1,423.7 L1684.2,422.3 L1688.3,420.8 L1692.5,419.3 L1696.6,417.7 L1700.8,416.2 L1704.9,414.6 L1709.0,413.0 M1761.1,390.3 L1765.3,388.3 L1769.4,386.3 L1773.6,384.4 L1777.7,382.3 L1781.8,380.3 L1786.0,378.3 L1790.1,376.2 L1794.3,374.2 L1798.4,372.1 L1802.5,370.0 L1806.7,368.0 L1810.8,365.9 L1814.9,363.8 L1819.1,361.7 L1823.2,359.7 L1827.4,357.6 L1831.5,355.5 L1835.6,353.5 L1839.8,351.4 L1843.9,349.4 L1848.1,347.3 L1852.2,345.3 L1856.3,343.3 L1860.5,341.3 L1864.6,339.3 L1868.7,337.4 L1872.9,335.4 L1877.0,333.5 L1881.2,331.6 L1885.3,329.7 L1889.4,327.9 L1893.6,326.1 L1897.7,324.3 L1901.9,322.5 M1954.0,303.3 L1958.1,302.0 L1962.2,300.8 L1966.4,299.6 L1970.5,298.4 L1974.7,297.2 L1978.8,296.1 L1982.9,295.0 L1987.1,293.9 L1991.2,292.9 L1995.3,291.9 L1999.5,290.9 L2003.6,289.9 L2007.8,289.0 L2011.9,288.0 L2016.0,287.1 L2020.2,286.2 L2024.3,285.4 L2028.5,284.5 L2032.6,283.7 L2036.7,282.9 L2040.9,282.1 L2045.0,281.3 L2049.2,280.6 L2053.3,279.8 L2057.4,279.1 L2061.6,278.4 L2065.7,277.7 L2069.8,277.0 L2074.0,276.3 L2078.1,275.6 L2082.3,274.9 L2086.4,274.3 L2090.5,273.6 L2094.7,273.0" fill="none" stroke="#ff8000" stroke-width="6.5" stroke-linecap="butt" stroke-linejoin="round"/>
<polygon points="597.8,430.0 562.3,409.7 562.3,450.3" fill="#ff8000"/>
<polygon points="790.6,436.5 755.1,416.2 755.1,456.8" fill="#ff8000"/>
<polygon points="983.5,473.9 948.0,453.6 948.0,494.2" fill="#ff8000"/>
<polygon points="1176.3,477.0 1140.8,456.7 1140.8,497.3" fill="#ff8000"/>
<polygon points="1369.1,478.1 1333.6,457.8 1333.6,498.4" fill="#ff8000"/>
<polygon points="1561.9,459.8 1526.4,439.5 1526.4,480.1" fill="#ff8000"/>
<polygon points="1754.7,403.5 1719.2,383.2 1719.2,423.8" fill="#ff8000"/>
<polygon points="1947.6,313.3 1912.1,293.0 1912.1,333.6" fill="#ff8000"/>
<polygon points="2140.4,269.4 2104.9,249.1 2104.9,289.7" fill="#ff8000"/>
<g stroke="#000" stroke-width="7" fill="none" stroke-linecap="butt">
<line x1="382.3" y1="46.5" x2="382.3" y2="1487.5"/>
<line x1="2310.5" y1="46.5" x2="2310.5" y2="1487.5"/>
<line x1="378.8" y1="50.0" x2="2314.0" y2="50.0"/>
<line x1="378.8" y1="1484.0" x2="2314.0" y2="1484.0"/>
<line x1="350.8" y1="97.0" x2="382.3" y2="97.0"/>
<line x1="363.8" y1="212.6" x2="382.3" y2="212.6"/>
<line x1="350.8" y1="328.2" x2="382.3" y2="328.2"/>
<line x1="363.8" y1="443.8" x2="382.3" y2="443.8"/>
<line x1="350.8" y1="559.3" x2="382.3" y2="559.3"/>
<line x1="363.8" y1="674.9" x2="382.3" y2="674.9"/>
<line x1="350.8" y1="790.5" x2="382.3" y2="790.5"/>
<line x1="363.8" y1="906.1" x2="382.3" y2="906.1"/>
<line x1="350.8" y1="1021.7" x2="382.3" y2="1021.7"/>
<line x1="363.8" y1="1137.2" x2="382.3" y2="1137.2"/>
<line x1="350.8" y1="1252.8" x2="382.3" y2="1252.8"/>
<line x1="363.8" y1="1368.4" x2="382.3" y2="1368.4"/>
<line x1="350.8" y1="1484.0" x2="382.3" y2="1484.0"/>
<line x1="382.3" y1="1484.0" x2="382.3" y2="1515.5"/>
<line x1="575.1" y1="1484.0" x2="575.1" y2="1502.5"/>
<line x1="767.9" y1="1484.0" x2="767.9" y2="1515.5"/>
<line x1="960.8" y1="1484.0" x2="960.8" y2="1502.5"/>
<line x1="1153.6" y1="1484.0" x2="1153.6" y2="1515.5"/>
<line x1="1346.4" y1="1484.0" x2="1346.4" y2="1502.5"/>
<line x1="1539.2" y1="1484.0" x2="1539.2" y2="1515.5"/>
<line x1="1732.0" y1="1484.0" x2="1732.0" y2="1502.5"/>
<line x1="1924.9" y1="1484.0" x2="1924.9" y2="1515.5"/>
<line x1="2117.7" y1="1484.0" x2="2117.7" y2="1502.5"/>
<line x1="2310.5" y1="1484.0" x2="2310.5" y2="1515.5"/>
</g>
<g font-family="'Liberation Serif', serif" font-weight="bold" font-size="81" fill="#000">
<text x="335.3" y="118.0" text-anchor="end">-50</text>
<text x="335.3" y="349.2" text-anchor="end">-100</text>
<text x="335.3" y="580.3" text-anchor="end">-150</text>
<text x="335.3" y="811.5" text-anchor="end">-200</text>
<text x="335.3" y="1042.7" text-anchor="end">-250</text>
<text x="335.3" y="1273.8" text-anchor="end">-300</text>
<text x="335.3" y="1505.0" text-anchor="end">-350</text>
<text x="382.3" y="1592.7" text-anchor="middle">0</text>
<text x="767.9" y="1592.7" text-anchor="middle">20</text>
<text x="1153.6" y="1592.7" text-anchor="middle">40</text>
<text x="1539.2" y="1592.7" text-anchor="middle">60</text>
<text x="1924.9" y="1592.7" text-anchor="middle">80</text>
<text x="2310.5" y="1592.7" text-anchor="middle">100</text>
</g>
<g font-family="'Liberation Serif', serif" font-weight="bold" font-size="100" fill="#000">
<text transform="translate(1203.3,1714.5) scale(1.175,1)" font-style="italic" font-size="101">X</text>
<text transform="translate(1277,1755) scale(0.82,1)" font-size="64">t</text>
<text transform="translate(1320.3,1714.5) scale(1.085,1)" font-size="95">(%)</text>
<g transform="translate(117,1060) rotate(-90)">
<text transform="translate(-0.2,0) scale(0.987,1)" font-style="italic">Δ</text>
<text transform="translate(57.7,0) scale(1.1,1)" font-style="italic">E</text>
<text x="123" y="42" font-size="59">a</text>
<text transform="translate(154.8,0) scale(1.031,1)">(kJ/mol))</text>
</g>
</g>
<g font-family="'Liberation Serif', serif" font-weight="bold" font-size="60.5" fill="#000">
<path d="M1618,944.0 H1670 M1712.7,944.0 H1764.8" stroke="#000000" stroke-width="6.5" fill="none"/>
<rect x="1674.5" y="928.2" width="31.6" height="31.6" fill="#000000"/>
<text x="1777" y="964.5">PCL</text>
<path d="M1618,1020.7 H1670 M1712.7,1020.7 H1764.8" stroke="#ff0000" stroke-width="6.5" fill="none"/>
<circle cx="1690.3" cy="1020.7" r="16.6" fill="#ff0000"/>
<text x="1777" y="1041.2">PCL/APIBPOSS2</text>
<path d="M1618,1097.4 H1670 M1712.7,1097.4 H1764.8" stroke="#0000ff" stroke-width="6.5" fill="none"/>
<circle cx="1690.3" cy="1097.4" r="16.6" fill="#0000ff"/>
<text x="1777" y="1117.9">PCL/APIBPOSS5</text>
<path d="M1618,1174.1 H1670 M1712.7,1174.1 H1764.8" stroke="#008700" stroke-width="6.5" fill="none"/>
<circle cx="1690.3" cy="1174.1" r="16.6" fill="#008700"/>
<text x="1777" y="1194.6">PCL/APIBPOSS10</text>
<path d="M1618,1250.8 H1670 M1712.7,1250.8 H1764.8" stroke="#ff00ff" stroke-width="6.5" fill="none"/>
<polygon points="1669.9,1250.8 1690.3,1229.4 1710.7,1250.8 1690.3,1272.2" fill="#ff00ff"/>
<text x="1777" y="1271.3">PCL/APIOPOSS2</text>
<path d="M1618,1327.5 H1670 M1712.7,1327.5 H1764.8" stroke="#9a008c" stroke-width="6.5" fill="none"/>
<polygon points="1667.6,1327.5 1703.1,1307.2 1703.1,1347.8" fill="#9a008c"/>
<text x="1777" y="1348.0">PCL/APIOPOSS5</text>
<path d="M1618,1404.2 H1670 M1712.7,1404.2 H1764.8" stroke="#ff8000" stroke-width="6.5" fill="none"/>
<polygon points="1713.0,1404.2 1677.5,1383.9 1677.5,1424.5" fill="#ff8000"/>
<text x="1777" y="1424.7">PCL/APIOPOSS10</text>
</g>
</svg>
</body></html>
